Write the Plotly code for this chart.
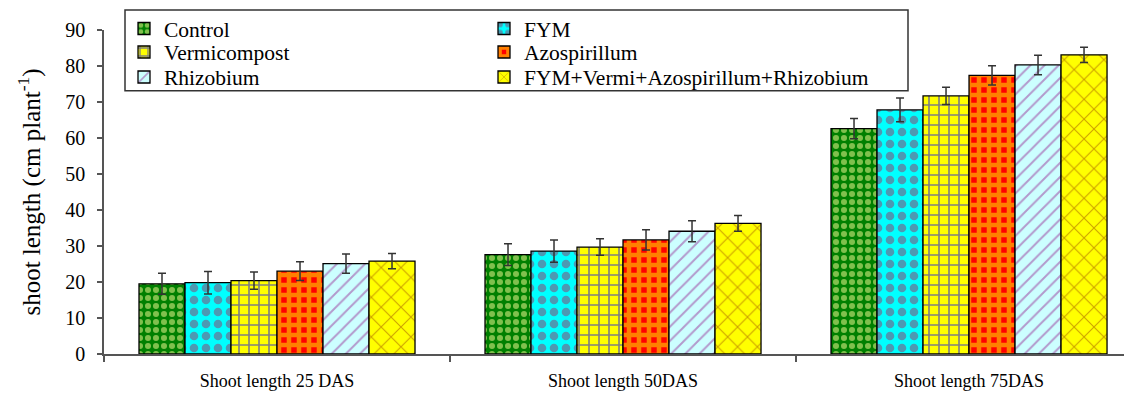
import plotly.graph_objects as go

categories = ["Shoot length 25 DAS", "Shoot length 50DAS", "Shoot length 75DAS"]
series_names = ["Control", "FYM", "Vermicompost", "Azospirillum", "Rhizobium",
                "FYM+Vermi+Azospirillum+Rhizobium"]

control = [19.5, 27.6, 62.6]
fym = [19.8, 28.6, 67.8]
vermicompost = [20.4, 29.7, 71.7]
azospirillum = [23.0, 31.7, 77.4]
rhizobium = [25.1, 34.1, 80.3]
combined = [25.8, 36.3, 83.1]

control_err = [2.9, 3.0, 2.8]
fym_err = [3.1, 3.1, 3.3]
vermicompost_err = [2.4, 2.3, 2.4]
azospirillum_err = [2.6, 2.8, 2.7]
rhizobium_err = [2.7, 2.9, 2.7]
combined_err = [2.1, 2.2, 2.1]

values = [control, fym, vermicompost, azospirillum, rhizobium, combined]
errors = [control_err, fym_err, vermicompost_err, azospirillum_err, rhizobium_err, combined_err]

patterns = [
    dict(shape=".", bgcolor="#008000", fgcolor="#FFFF99", size=8, solidity=0.45),
    dict(shape=".", bgcolor="#00FFFF", fgcolor="#993366", size=12, solidity=0.4),
    dict(shape="+", bgcolor="#FFFF00", fgcolor="#0000FF", size=10, solidity=0.3),
    dict(shape="+", bgcolor="#FF0000", fgcolor="#FFFF00", size=10, solidity=0.7),
    dict(shape="/", bgcolor="#CCFFFF", fgcolor="#993399", size=10, solidity=0.2),
    dict(shape="x", bgcolor="#FFFF00", fgcolor="#994400", size=14, solidity=0.15),
]

font_family = "Liberation Serif, Times New Roman, serif"

# page is rendered with an 8px body margin
OFF = 8
W, H = 1132 - OFF, 394 - OFF
L, R, T, B = 96, 0, 21, 40
pw = W - L - R
ph = H - T - B

def px_x(x_page):
    return (x_page - OFF - L) / pw

def px_y(y_page):
    return (H - B - (y_page - OFF)) / ph

# legend layout (page pixels): two columns, three rows
col_left = [124, 484]
row_mid = [27, 52, 77]
legend_layouts = {}
legend_names = []
for i in range(len(series_names)):
    key = "legend" if i == 0 else "legend%d" % (i + 1)
    legend_names.append(key)
    col = i % 2
    row = i // 2
    legend_layouts[key] = dict(
        x=px_x(col_left[col]), y=px_y(row_mid[row]), xanchor="left", yanchor="middle",
        orientation="v", bgcolor="rgba(0,0,0,0)", borderwidth=0, visible=True,
        font=dict(size=21.5, family=font_family, color="black"))

fig = go.Figure()
for i, name in enumerate(series_names):
    fig.add_trace(go.Bar(
        name=name,
        x=categories,
        y=values[i],
        marker=dict(color=patterns[i]["bgcolor"], pattern=patterns[i],
                    line=dict(color="black", width=1.3)),
        error_y=dict(type="data", array=errors[i], color="#333333",
                     thickness=1.5, width=4),
        legend=legend_names[i],
        showlegend=True,
    ))

fig.update_layout(
    width=W, height=H,
    margin=dict(l=L, r=R, t=T, b=B),
    showlegend=True,
    paper_bgcolor="white", plot_bgcolor="white",
    font=dict(family=font_family, color="black"),
    barmode="group", bargap=0.2023, bargroupgap=0,
    xaxis=dict(range=[-0.5, 2.471], showline=True, linecolor="#555555", linewidth=1.5,
               ticks="outside", tickson="boundaries", ticklen=6, tickcolor="#555555",
               tickwidth=1.5, tickfont=dict(size=18, family=font_family),
               ticklabelstandoff=10, showgrid=False, zeroline=False),
    yaxis=dict(range=[0, 90], dtick=10, showline=True, linecolor="#555555", linewidth=1.5,
               ticks="outside", ticklen=5, tickcolor="#555555", tickwidth=1.5,
               tickfont=dict(size=20, family=font_family), ticklabelstandoff=8,
               showgrid=False, zeroline=False,
               title=dict(text="shoot length (cm plant<sup>-1</sup>)",
                          font=dict(size=25, family=font_family), standoff=18)),
    shapes=[dict(type="rect", xref="paper", yref="paper",
                 x0=px_x(125), x1=px_x(908), y0=px_y(90), y1=px_y(9),
                 line=dict(color="#333333", width=1.5), fillcolor="rgba(0,0,0,0)")],
    **legend_layouts,
)

fig.write_html("out.html")
